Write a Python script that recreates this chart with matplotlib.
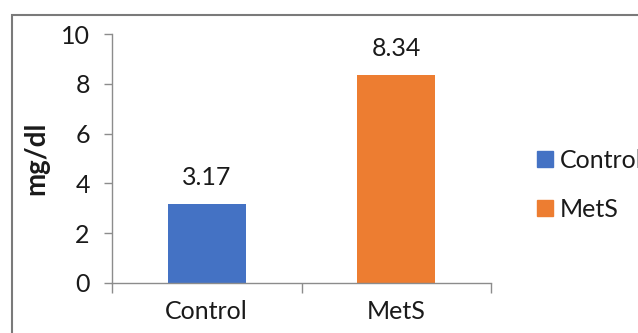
import matplotlib
matplotlib.use("Agg")
import matplotlib.pyplot as plt
from matplotlib.patches import Rectangle

categories = ["Control", "MetS"]
values = [3.17, 8.34]
value_labels = ["3.17", "8.34"]
colors = ["#4472C4", "#ED7D31"]
y_ticks = [0, 2, 4, 6, 8, 10]

plt.rcParams["font.family"] = ["Lato", "DejaVu Sans"]
text_color = "#1a1a1a"
axis_color = "#8c8c8c"
fs = 18

fig = plt.figure(figsize=(6.38, 3.33), dpi=100)
ax = fig.add_axes([112 / 638, 1 - 283 / 333, (491 - 112) / 638, (283 - 34) / 333])

x = list(range(len(categories)))
bars = ax.bar(x, values, width=0.41, color=colors, label=categories, zorder=2)

for xi, v, lab in zip(x, values, value_labels):
    ax.annotate(lab, (xi, v), xytext=(0, 11), textcoords="offset points",
                ha="center", va="bottom", fontsize=fs, color=text_color)

ax.set_xlim(-0.5, 1.5)
ax.set_ylim(0, 10)
ax.set_yticks(y_ticks)
ax.set_yticklabels([str(t) for t in y_ticks], fontsize=fs, color=text_color)

# tick marks sit on category boundaries, labels at category centres
ax.set_xticks([-0.5, 0.5, 1.5])
ax.set_xticklabels(["", "", ""])
ax.set_xticks(x, minor=True)
ax.set_xticklabels(categories, minor=True, fontsize=fs, color=text_color)
ax.tick_params(axis="x", which="major", direction="out", length=7, width=1, color=axis_color)
ax.tick_params(axis="x", which="minor", length=0, pad=12)
ax.tick_params(axis="y", direction="out", length=6, width=1, color=axis_color, pad=10)

for side in ["top", "right"]:
    ax.spines[side].set_visible(False)
for side in ["left", "bottom"]:
    ax.spines[side].set_color(axis_color)
    ax.spines[side].set_linewidth(1)

fig.text(36 / 638, 1 - 158 / 333, "mg/dl", rotation=90, ha="center", va="center",
         fontsize=20, fontweight="bold", color=text_color)

handles = [Rectangle((0, 0), 1, 1, color=c) for c in colors]
fig.legend(handles, categories, loc="center left", bbox_to_anchor=(537 / 638, 1 - 185 / 333),
           frameon=False, fontsize=fs, handlelength=0.62, handleheight=0.62,
           handletextpad=0.3, labelspacing=1.05, borderpad=0, borderaxespad=0,
           labelcolor=text_color)

border = Rectangle((12 / 638, -0.2), 1.2, 1.2 - 15 / 333, transform=fig.transFigure,
                   fill=False, edgecolor="#7a7a7a", linewidth=1.5, clip_on=False)
fig.patches.append(border)

fig.savefig("out.png", dpi=100)
